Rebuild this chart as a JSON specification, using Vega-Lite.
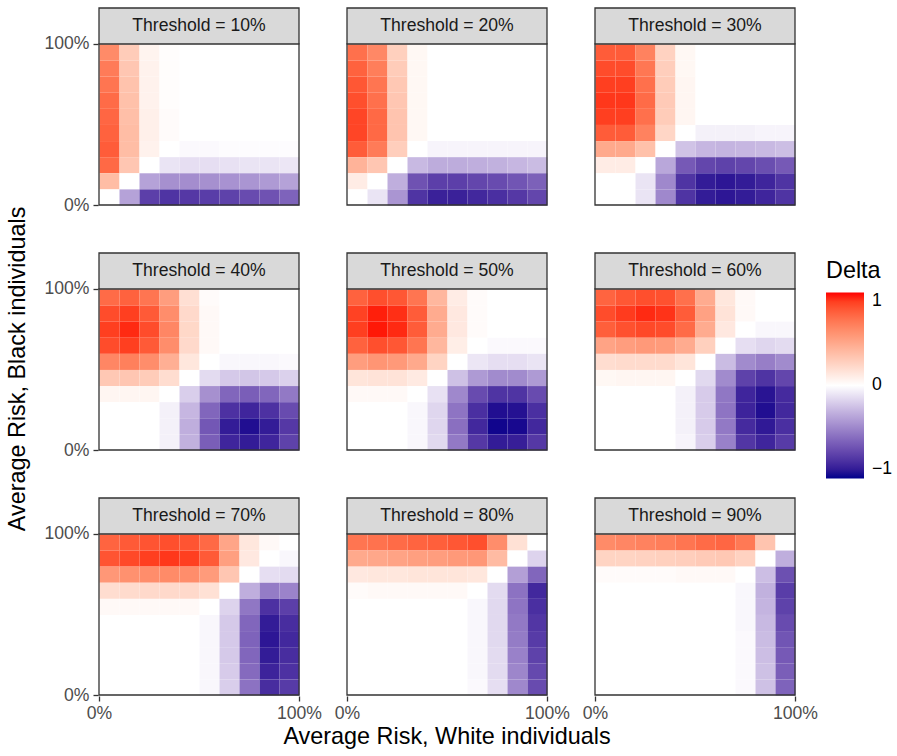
{
"$schema":"https://vega.github.io/schema/vega-lite/v6.json",
"background":"white",
"padding":{"left":5,"top":7,"right":5,"bottom":5},
"title":{"text":"Average Risk, Black individuals","orient":"left","anchor":"middle","fontSize":23.4,"fontWeight":"normal","color":"black","font":"Liberation Sans","offset":14,"dx":9},
"data":{"values":[
{"t":10,"x":0,"y":90,"d":0.6},{"t":10,"x":10,"y":90,"d":0.27},{"t":10,"x":20,"y":90,"d":0.06},{"t":10,"x":30,"y":90,"d":0.01},{"t":10,"x":40,"y":90,"d":0},{"t":10,"x":50,"y":90,"d":0},{"t":10,"x":60,"y":90,"d":0},{"t":10,"x":70,"y":90,"d":0},{"t":10,"x":80,"y":90,"d":0},{"t":10,"x":90,"y":90,"d":0},
{"t":10,"x":0,"y":80,"d":0.67},{"t":10,"x":10,"y":80,"d":0.3},{"t":10,"x":20,"y":80,"d":0.07},{"t":10,"x":30,"y":80,"d":0.01},{"t":10,"x":40,"y":80,"d":0},{"t":10,"x":50,"y":80,"d":0},{"t":10,"x":60,"y":80,"d":0},{"t":10,"x":70,"y":80,"d":0},{"t":10,"x":80,"y":80,"d":0},{"t":10,"x":90,"y":80,"d":0},
{"t":10,"x":0,"y":70,"d":0.7},{"t":10,"x":10,"y":70,"d":0.32},{"t":10,"x":20,"y":70,"d":0.07},{"t":10,"x":30,"y":70,"d":0.01},{"t":10,"x":40,"y":70,"d":0},{"t":10,"x":50,"y":70,"d":0},{"t":10,"x":60,"y":70,"d":0},{"t":10,"x":70,"y":70,"d":0},{"t":10,"x":80,"y":70,"d":0},{"t":10,"x":90,"y":70,"d":0},
{"t":10,"x":0,"y":60,"d":0.74},{"t":10,"x":10,"y":60,"d":0.33},{"t":10,"x":20,"y":60,"d":0.07},{"t":10,"x":30,"y":60,"d":0.01},{"t":10,"x":40,"y":60,"d":0},{"t":10,"x":50,"y":60,"d":0},{"t":10,"x":60,"y":60,"d":0},{"t":10,"x":70,"y":60,"d":0},{"t":10,"x":80,"y":60,"d":0},{"t":10,"x":90,"y":60,"d":0},
{"t":10,"x":0,"y":50,"d":0.76},{"t":10,"x":10,"y":50,"d":0.34},{"t":10,"x":20,"y":50,"d":0.08},{"t":10,"x":30,"y":50,"d":0.02},{"t":10,"x":40,"y":50,"d":0},{"t":10,"x":50,"y":50,"d":0},{"t":10,"x":60,"y":50,"d":0},{"t":10,"x":70,"y":50,"d":0},{"t":10,"x":80,"y":50,"d":0},{"t":10,"x":90,"y":50,"d":0},
{"t":10,"x":0,"y":40,"d":0.78},{"t":10,"x":10,"y":40,"d":0.35},{"t":10,"x":20,"y":40,"d":0.08},{"t":10,"x":30,"y":40,"d":0.02},{"t":10,"x":40,"y":40,"d":0},{"t":10,"x":50,"y":40,"d":0},{"t":10,"x":60,"y":40,"d":0},{"t":10,"x":70,"y":40,"d":0},{"t":10,"x":80,"y":40,"d":0},{"t":10,"x":90,"y":40,"d":0},
{"t":10,"x":0,"y":30,"d":0.8},{"t":10,"x":10,"y":30,"d":0.35},{"t":10,"x":20,"y":30,"d":0.07},{"t":10,"x":30,"y":30,"d":0},{"t":10,"x":40,"y":30,"d":-0.02},{"t":10,"x":50,"y":30,"d":-0.02},{"t":10,"x":60,"y":30,"d":-0.01},{"t":10,"x":70,"y":30,"d":-0.01},{"t":10,"x":80,"y":30,"d":-0.01},{"t":10,"x":90,"y":30,"d":-0.01},
{"t":10,"x":0,"y":20,"d":0.75},{"t":10,"x":10,"y":20,"d":0.3},{"t":10,"x":20,"y":20,"d":0},{"t":10,"x":30,"y":20,"d":-0.1},{"t":10,"x":40,"y":20,"d":-0.12},{"t":10,"x":50,"y":20,"d":-0.12},{"t":10,"x":60,"y":20,"d":-0.11},{"t":10,"x":70,"y":20,"d":-0.1},{"t":10,"x":80,"y":20,"d":-0.1},{"t":10,"x":90,"y":20,"d":-0.09},
{"t":10,"x":0,"y":10,"d":0.35},{"t":10,"x":10,"y":10,"d":0},{"t":10,"x":20,"y":10,"d":-0.35},{"t":10,"x":30,"y":10,"d":-0.42},{"t":10,"x":40,"y":10,"d":-0.43},{"t":10,"x":50,"y":10,"d":-0.42},{"t":10,"x":60,"y":10,"d":-0.41},{"t":10,"x":70,"y":10,"d":-0.4},{"t":10,"x":80,"y":10,"d":-0.38},{"t":10,"x":90,"y":10,"d":-0.35},
{"t":10,"x":0,"y":0,"d":0},{"t":10,"x":10,"y":0,"d":-0.35},{"t":10,"x":20,"y":0,"d":-0.75},{"t":10,"x":30,"y":0,"d":-0.8},{"t":10,"x":40,"y":0,"d":-0.78},{"t":10,"x":50,"y":0,"d":-0.76},{"t":10,"x":60,"y":0,"d":-0.74},{"t":10,"x":70,"y":0,"d":-0.7},{"t":10,"x":80,"y":0,"d":-0.67},{"t":10,"x":90,"y":0,"d":-0.6},
{"t":20,"x":0,"y":90,"d":0.72},{"t":20,"x":10,"y":90,"d":0.61},{"t":20,"x":20,"y":90,"d":0.25},{"t":20,"x":30,"y":90,"d":0.04},{"t":20,"x":40,"y":90,"d":0},{"t":20,"x":50,"y":90,"d":0},{"t":20,"x":60,"y":90,"d":0},{"t":20,"x":70,"y":90,"d":0},{"t":20,"x":80,"y":90,"d":0},{"t":20,"x":90,"y":90,"d":0},
{"t":20,"x":0,"y":80,"d":0.78},{"t":20,"x":10,"y":80,"d":0.66},{"t":20,"x":20,"y":80,"d":0.27},{"t":20,"x":30,"y":80,"d":0.04},{"t":20,"x":40,"y":80,"d":0},{"t":20,"x":50,"y":80,"d":0},{"t":20,"x":60,"y":80,"d":0},{"t":20,"x":70,"y":80,"d":0},{"t":20,"x":80,"y":80,"d":0},{"t":20,"x":90,"y":80,"d":0},
{"t":20,"x":0,"y":70,"d":0.82},{"t":20,"x":10,"y":70,"d":0.7},{"t":20,"x":20,"y":70,"d":0.29},{"t":20,"x":30,"y":70,"d":0.04},{"t":20,"x":40,"y":70,"d":0},{"t":20,"x":50,"y":70,"d":0},{"t":20,"x":60,"y":70,"d":0},{"t":20,"x":70,"y":70,"d":0},{"t":20,"x":80,"y":70,"d":0},{"t":20,"x":90,"y":70,"d":0},
{"t":20,"x":0,"y":60,"d":0.85},{"t":20,"x":10,"y":60,"d":0.72},{"t":20,"x":20,"y":60,"d":0.3},{"t":20,"x":30,"y":60,"d":0.04},{"t":20,"x":40,"y":60,"d":0},{"t":20,"x":50,"y":60,"d":0},{"t":20,"x":60,"y":60,"d":0},{"t":20,"x":70,"y":60,"d":0},{"t":20,"x":80,"y":60,"d":0},{"t":20,"x":90,"y":60,"d":0},
{"t":20,"x":0,"y":50,"d":0.88},{"t":20,"x":10,"y":50,"d":0.75},{"t":20,"x":20,"y":50,"d":0.31},{"t":20,"x":30,"y":50,"d":0.04},{"t":20,"x":40,"y":50,"d":0},{"t":20,"x":50,"y":50,"d":0},{"t":20,"x":60,"y":50,"d":0},{"t":20,"x":70,"y":50,"d":0},{"t":20,"x":80,"y":50,"d":0},{"t":20,"x":90,"y":50,"d":0},
{"t":20,"x":0,"y":40,"d":0.88},{"t":20,"x":10,"y":40,"d":0.75},{"t":20,"x":20,"y":40,"d":0.31},{"t":20,"x":30,"y":40,"d":0.04},{"t":20,"x":40,"y":40,"d":0},{"t":20,"x":50,"y":40,"d":0},{"t":20,"x":60,"y":40,"d":0},{"t":20,"x":70,"y":40,"d":0},{"t":20,"x":80,"y":40,"d":0},{"t":20,"x":90,"y":40,"d":0},
{"t":20,"x":0,"y":30,"d":0.8},{"t":20,"x":10,"y":30,"d":0.67},{"t":20,"x":20,"y":30,"d":0.26},{"t":20,"x":30,"y":30,"d":0},{"t":20,"x":40,"y":30,"d":-0.04},{"t":20,"x":50,"y":30,"d":-0.04},{"t":20,"x":60,"y":30,"d":-0.04},{"t":20,"x":70,"y":30,"d":-0.04},{"t":20,"x":80,"y":30,"d":-0.04},{"t":20,"x":90,"y":30,"d":-0.04},
{"t":20,"x":0,"y":20,"d":0.4},{"t":20,"x":10,"y":20,"d":0.3},{"t":20,"x":20,"y":20,"d":0},{"t":20,"x":30,"y":20,"d":-0.26},{"t":20,"x":40,"y":20,"d":-0.31},{"t":20,"x":50,"y":20,"d":-0.31},{"t":20,"x":60,"y":20,"d":-0.3},{"t":20,"x":70,"y":20,"d":-0.29},{"t":20,"x":80,"y":20,"d":-0.27},{"t":20,"x":90,"y":20,"d":-0.25},
{"t":20,"x":0,"y":10,"d":0.1},{"t":20,"x":10,"y":10,"d":0},{"t":20,"x":20,"y":10,"d":-0.3},{"t":20,"x":30,"y":10,"d":-0.67},{"t":20,"x":40,"y":10,"d":-0.75},{"t":20,"x":50,"y":10,"d":-0.75},{"t":20,"x":60,"y":10,"d":-0.72},{"t":20,"x":70,"y":10,"d":-0.7},{"t":20,"x":80,"y":10,"d":-0.66},{"t":20,"x":90,"y":10,"d":-0.61},
{"t":20,"x":0,"y":0,"d":0},{"t":20,"x":10,"y":0,"d":-0.1},{"t":20,"x":20,"y":0,"d":-0.4},{"t":20,"x":30,"y":0,"d":-0.8},{"t":20,"x":40,"y":0,"d":-0.88},{"t":20,"x":50,"y":0,"d":-0.88},{"t":20,"x":60,"y":0,"d":-0.85},{"t":20,"x":70,"y":0,"d":-0.82},{"t":20,"x":80,"y":0,"d":-0.78},{"t":20,"x":90,"y":0,"d":-0.72},
{"t":30,"x":0,"y":90,"d":0.8},{"t":30,"x":10,"y":90,"d":0.8},{"t":30,"x":20,"y":90,"d":0.64},{"t":30,"x":30,"y":90,"d":0.24},{"t":30,"x":40,"y":90,"d":0.04},{"t":30,"x":50,"y":90,"d":0},{"t":30,"x":60,"y":90,"d":0},{"t":30,"x":70,"y":90,"d":0},{"t":30,"x":80,"y":90,"d":0},{"t":30,"x":90,"y":90,"d":0},
{"t":30,"x":0,"y":80,"d":0.86},{"t":30,"x":10,"y":80,"d":0.86},{"t":30,"x":20,"y":80,"d":0.69},{"t":30,"x":30,"y":80,"d":0.26},{"t":30,"x":40,"y":80,"d":0.04},{"t":30,"x":50,"y":80,"d":0},{"t":30,"x":60,"y":80,"d":0},{"t":30,"x":70,"y":80,"d":0},{"t":30,"x":80,"y":80,"d":0},{"t":30,"x":90,"y":80,"d":0},
{"t":30,"x":0,"y":70,"d":0.9},{"t":30,"x":10,"y":70,"d":0.9},{"t":30,"x":20,"y":70,"d":0.72},{"t":30,"x":30,"y":70,"d":0.27},{"t":30,"x":40,"y":70,"d":0.05},{"t":30,"x":50,"y":70,"d":0},{"t":30,"x":60,"y":70,"d":0},{"t":30,"x":70,"y":70,"d":0},{"t":30,"x":80,"y":70,"d":0},{"t":30,"x":90,"y":70,"d":0},
{"t":30,"x":0,"y":60,"d":0.92},{"t":30,"x":10,"y":60,"d":0.92},{"t":30,"x":20,"y":60,"d":0.74},{"t":30,"x":30,"y":60,"d":0.28},{"t":30,"x":40,"y":60,"d":0.05},{"t":30,"x":50,"y":60,"d":0},{"t":30,"x":60,"y":60,"d":0},{"t":30,"x":70,"y":60,"d":0},{"t":30,"x":80,"y":60,"d":0},{"t":30,"x":90,"y":60,"d":0},
{"t":30,"x":0,"y":50,"d":0.9},{"t":30,"x":10,"y":50,"d":0.9},{"t":30,"x":20,"y":50,"d":0.72},{"t":30,"x":30,"y":50,"d":0.27},{"t":30,"x":40,"y":50,"d":0.05},{"t":30,"x":50,"y":50,"d":0},{"t":30,"x":60,"y":50,"d":0},{"t":30,"x":70,"y":50,"d":0},{"t":30,"x":80,"y":50,"d":0},{"t":30,"x":90,"y":50,"d":0},
{"t":30,"x":0,"y":40,"d":0.8},{"t":30,"x":10,"y":40,"d":0.8},{"t":30,"x":20,"y":40,"d":0.64},{"t":30,"x":30,"y":40,"d":0.22},{"t":30,"x":40,"y":40,"d":0},{"t":30,"x":50,"y":40,"d":-0.05},{"t":30,"x":60,"y":40,"d":-0.05},{"t":30,"x":70,"y":40,"d":-0.05},{"t":30,"x":80,"y":40,"d":-0.04},{"t":30,"x":90,"y":40,"d":-0.04},
{"t":30,"x":0,"y":30,"d":0.45},{"t":30,"x":10,"y":30,"d":0.45},{"t":30,"x":20,"y":30,"d":0.33},{"t":30,"x":30,"y":30,"d":0},{"t":30,"x":40,"y":30,"d":-0.22},{"t":30,"x":50,"y":30,"d":-0.27},{"t":30,"x":60,"y":30,"d":-0.28},{"t":30,"x":70,"y":30,"d":-0.27},{"t":30,"x":80,"y":30,"d":-0.26},{"t":30,"x":90,"y":30,"d":-0.24},
{"t":30,"x":0,"y":20,"d":0.1},{"t":30,"x":10,"y":20,"d":0.1},{"t":30,"x":20,"y":20,"d":0},{"t":30,"x":30,"y":20,"d":-0.33},{"t":30,"x":40,"y":20,"d":-0.64},{"t":30,"x":50,"y":20,"d":-0.72},{"t":30,"x":60,"y":20,"d":-0.74},{"t":30,"x":70,"y":20,"d":-0.72},{"t":30,"x":80,"y":20,"d":-0.69},{"t":30,"x":90,"y":20,"d":-0.64},
{"t":30,"x":0,"y":10,"d":0},{"t":30,"x":10,"y":10,"d":0},{"t":30,"x":20,"y":10,"d":-0.1},{"t":30,"x":30,"y":10,"d":-0.45},{"t":30,"x":40,"y":10,"d":-0.8},{"t":30,"x":50,"y":10,"d":-0.9},{"t":30,"x":60,"y":10,"d":-0.92},{"t":30,"x":70,"y":10,"d":-0.9},{"t":30,"x":80,"y":10,"d":-0.86},{"t":30,"x":90,"y":10,"d":-0.8},
{"t":30,"x":0,"y":0,"d":0},{"t":30,"x":10,"y":0,"d":0},{"t":30,"x":20,"y":0,"d":-0.1},{"t":30,"x":30,"y":0,"d":-0.45},{"t":30,"x":40,"y":0,"d":-0.8},{"t":30,"x":50,"y":0,"d":-0.9},{"t":30,"x":60,"y":0,"d":-0.92},{"t":30,"x":70,"y":0,"d":-0.9},{"t":30,"x":80,"y":0,"d":-0.86},{"t":30,"x":90,"y":0,"d":-0.8},
{"t":40,"x":0,"y":90,"d":0.74},{"t":40,"x":10,"y":90,"d":0.78},{"t":40,"x":20,"y":90,"d":0.7},{"t":40,"x":30,"y":90,"d":0.51},{"t":40,"x":40,"y":90,"d":0.17},{"t":40,"x":50,"y":90,"d":0.02},{"t":40,"x":60,"y":90,"d":0},{"t":40,"x":70,"y":90,"d":0},{"t":40,"x":80,"y":90,"d":0},{"t":40,"x":90,"y":90,"d":0},
{"t":40,"x":0,"y":80,"d":0.86},{"t":40,"x":10,"y":80,"d":0.9},{"t":40,"x":20,"y":80,"d":0.81},{"t":40,"x":30,"y":80,"d":0.59},{"t":40,"x":40,"y":80,"d":0.2},{"t":40,"x":50,"y":80,"d":0.03},{"t":40,"x":60,"y":80,"d":0},{"t":40,"x":70,"y":80,"d":0},{"t":40,"x":80,"y":80,"d":0},{"t":40,"x":90,"y":80,"d":0},
{"t":40,"x":0,"y":70,"d":0.9},{"t":40,"x":10,"y":70,"d":0.95},{"t":40,"x":20,"y":70,"d":0.86},{"t":40,"x":30,"y":70,"d":0.62},{"t":40,"x":40,"y":70,"d":0.21},{"t":40,"x":50,"y":70,"d":0.03},{"t":40,"x":60,"y":70,"d":0},{"t":40,"x":70,"y":70,"d":0},{"t":40,"x":80,"y":70,"d":0},{"t":40,"x":90,"y":70,"d":0},
{"t":40,"x":0,"y":60,"d":0.86},{"t":40,"x":10,"y":60,"d":0.9},{"t":40,"x":20,"y":60,"d":0.81},{"t":40,"x":30,"y":60,"d":0.59},{"t":40,"x":40,"y":60,"d":0.2},{"t":40,"x":50,"y":60,"d":0.03},{"t":40,"x":60,"y":60,"d":0},{"t":40,"x":70,"y":60,"d":0},{"t":40,"x":80,"y":60,"d":0},{"t":40,"x":90,"y":60,"d":0},
{"t":40,"x":0,"y":50,"d":0.62},{"t":40,"x":10,"y":50,"d":0.65},{"t":40,"x":20,"y":50,"d":0.59},{"t":40,"x":30,"y":50,"d":0.42},{"t":40,"x":40,"y":50,"d":0.13},{"t":40,"x":50,"y":50,"d":0},{"t":40,"x":60,"y":50,"d":-0.03},{"t":40,"x":70,"y":50,"d":-0.03},{"t":40,"x":80,"y":50,"d":-0.03},{"t":40,"x":90,"y":50,"d":-0.02},
{"t":40,"x":0,"y":40,"d":0.29},{"t":40,"x":10,"y":40,"d":0.3},{"t":40,"x":20,"y":40,"d":0.27},{"t":40,"x":30,"y":40,"d":0.18},{"t":40,"x":40,"y":40,"d":0},{"t":40,"x":50,"y":40,"d":-0.13},{"t":40,"x":60,"y":40,"d":-0.2},{"t":40,"x":70,"y":40,"d":-0.21},{"t":40,"x":80,"y":40,"d":-0.2},{"t":40,"x":90,"y":40,"d":-0.17},
{"t":40,"x":0,"y":30,"d":0.05},{"t":40,"x":10,"y":30,"d":0.05},{"t":40,"x":20,"y":30,"d":0.05},{"t":40,"x":30,"y":30,"d":0},{"t":40,"x":40,"y":30,"d":-0.18},{"t":40,"x":50,"y":30,"d":-0.42},{"t":40,"x":60,"y":30,"d":-0.59},{"t":40,"x":70,"y":30,"d":-0.62},{"t":40,"x":80,"y":30,"d":-0.59},{"t":40,"x":90,"y":30,"d":-0.51},
{"t":40,"x":0,"y":20,"d":0},{"t":40,"x":10,"y":20,"d":0},{"t":40,"x":20,"y":20,"d":0},{"t":40,"x":30,"y":20,"d":-0.05},{"t":40,"x":40,"y":20,"d":-0.27},{"t":40,"x":50,"y":20,"d":-0.59},{"t":40,"x":60,"y":20,"d":-0.81},{"t":40,"x":70,"y":20,"d":-0.86},{"t":40,"x":80,"y":20,"d":-0.81},{"t":40,"x":90,"y":20,"d":-0.7},
{"t":40,"x":0,"y":10,"d":0},{"t":40,"x":10,"y":10,"d":0},{"t":40,"x":20,"y":10,"d":0},{"t":40,"x":30,"y":10,"d":-0.05},{"t":40,"x":40,"y":10,"d":-0.3},{"t":40,"x":50,"y":10,"d":-0.65},{"t":40,"x":60,"y":10,"d":-0.9},{"t":40,"x":70,"y":10,"d":-0.95},{"t":40,"x":80,"y":10,"d":-0.9},{"t":40,"x":90,"y":10,"d":-0.78},
{"t":40,"x":0,"y":0,"d":0},{"t":40,"x":10,"y":0,"d":0},{"t":40,"x":20,"y":0,"d":0},{"t":40,"x":30,"y":0,"d":-0.05},{"t":40,"x":40,"y":0,"d":-0.29},{"t":40,"x":50,"y":0,"d":-0.62},{"t":40,"x":60,"y":0,"d":-0.86},{"t":40,"x":70,"y":0,"d":-0.9},{"t":40,"x":80,"y":0,"d":-0.86},{"t":40,"x":90,"y":0,"d":-0.74},
{"t":50,"x":0,"y":90,"d":0.78},{"t":50,"x":10,"y":90,"d":0.85},{"t":50,"x":20,"y":90,"d":0.82},{"t":50,"x":30,"y":90,"d":0.7},{"t":50,"x":40,"y":90,"d":0.38},{"t":50,"x":50,"y":90,"d":0.1},{"t":50,"x":60,"y":90,"d":0.02},{"t":50,"x":70,"y":90,"d":0},{"t":50,"x":80,"y":90,"d":0},{"t":50,"x":90,"y":90,"d":0},
{"t":50,"x":0,"y":80,"d":0.89},{"t":50,"x":10,"y":80,"d":0.97},{"t":50,"x":20,"y":80,"d":0.94},{"t":50,"x":30,"y":80,"d":0.8},{"t":50,"x":40,"y":80,"d":0.44},{"t":50,"x":50,"y":80,"d":0.12},{"t":50,"x":60,"y":80,"d":0.02},{"t":50,"x":70,"y":80,"d":0},{"t":50,"x":80,"y":80,"d":0},{"t":50,"x":90,"y":80,"d":0},
{"t":50,"x":0,"y":70,"d":0.9},{"t":50,"x":10,"y":70,"d":0.98},{"t":50,"x":20,"y":70,"d":0.95},{"t":50,"x":30,"y":70,"d":0.8},{"t":50,"x":40,"y":70,"d":0.44},{"t":50,"x":50,"y":70,"d":0.12},{"t":50,"x":60,"y":70,"d":0.02},{"t":50,"x":70,"y":70,"d":0},{"t":50,"x":80,"y":70,"d":0},{"t":50,"x":90,"y":70,"d":0},
{"t":50,"x":0,"y":60,"d":0.78},{"t":50,"x":10,"y":60,"d":0.85},{"t":50,"x":20,"y":60,"d":0.82},{"t":50,"x":30,"y":60,"d":0.7},{"t":50,"x":40,"y":60,"d":0.38},{"t":50,"x":50,"y":60,"d":0.09},{"t":50,"x":60,"y":60,"d":0},{"t":50,"x":70,"y":60,"d":-0.02},{"t":50,"x":80,"y":60,"d":-0.02},{"t":50,"x":90,"y":60,"d":-0.02},
{"t":50,"x":0,"y":50,"d":0.51},{"t":50,"x":10,"y":50,"d":0.55},{"t":50,"x":20,"y":50,"d":0.53},{"t":50,"x":30,"y":50,"d":0.45},{"t":50,"x":40,"y":50,"d":0.23},{"t":50,"x":50,"y":50,"d":0},{"t":50,"x":60,"y":50,"d":-0.09},{"t":50,"x":70,"y":50,"d":-0.12},{"t":50,"x":80,"y":50,"d":-0.12},{"t":50,"x":90,"y":50,"d":-0.1},
{"t":50,"x":0,"y":40,"d":0.14},{"t":50,"x":10,"y":40,"d":0.15},{"t":50,"x":20,"y":40,"d":0.15},{"t":50,"x":30,"y":40,"d":0.11},{"t":50,"x":40,"y":40,"d":0},{"t":50,"x":50,"y":40,"d":-0.23},{"t":50,"x":60,"y":40,"d":-0.38},{"t":50,"x":70,"y":40,"d":-0.44},{"t":50,"x":80,"y":40,"d":-0.44},{"t":50,"x":90,"y":40,"d":-0.38},
{"t":50,"x":0,"y":30,"d":0.03},{"t":50,"x":10,"y":30,"d":0.03},{"t":50,"x":20,"y":30,"d":0.03},{"t":50,"x":30,"y":30,"d":0},{"t":50,"x":40,"y":30,"d":-0.11},{"t":50,"x":50,"y":30,"d":-0.45},{"t":50,"x":60,"y":30,"d":-0.7},{"t":50,"x":70,"y":30,"d":-0.8},{"t":50,"x":80,"y":30,"d":-0.8},{"t":50,"x":90,"y":30,"d":-0.7},
{"t":50,"x":0,"y":20,"d":0},{"t":50,"x":10,"y":20,"d":0},{"t":50,"x":20,"y":20,"d":0},{"t":50,"x":30,"y":20,"d":-0.03},{"t":50,"x":40,"y":20,"d":-0.15},{"t":50,"x":50,"y":20,"d":-0.53},{"t":50,"x":60,"y":20,"d":-0.82},{"t":50,"x":70,"y":20,"d":-0.95},{"t":50,"x":80,"y":20,"d":-0.94},{"t":50,"x":90,"y":20,"d":-0.82},
{"t":50,"x":0,"y":10,"d":0},{"t":50,"x":10,"y":10,"d":0},{"t":50,"x":20,"y":10,"d":0},{"t":50,"x":30,"y":10,"d":-0.03},{"t":50,"x":40,"y":10,"d":-0.15},{"t":50,"x":50,"y":10,"d":-0.55},{"t":50,"x":60,"y":10,"d":-0.85},{"t":50,"x":70,"y":10,"d":-0.98},{"t":50,"x":80,"y":10,"d":-0.97},{"t":50,"x":90,"y":10,"d":-0.85},
{"t":50,"x":0,"y":0,"d":0},{"t":50,"x":10,"y":0,"d":0},{"t":50,"x":20,"y":0,"d":0},{"t":50,"x":30,"y":0,"d":-0.03},{"t":50,"x":40,"y":0,"d":-0.14},{"t":50,"x":50,"y":0,"d":-0.51},{"t":50,"x":60,"y":0,"d":-0.78},{"t":50,"x":70,"y":0,"d":-0.9},{"t":50,"x":80,"y":0,"d":-0.89},{"t":50,"x":90,"y":0,"d":-0.78},
{"t":60,"x":0,"y":90,"d":0.77},{"t":60,"x":10,"y":90,"d":0.82},{"t":60,"x":20,"y":90,"d":0.85},{"t":60,"x":30,"y":90,"d":0.84},{"t":60,"x":40,"y":90,"d":0.72},{"t":60,"x":50,"y":90,"d":0.44},{"t":60,"x":60,"y":90,"d":0.13},{"t":60,"x":70,"y":90,"d":0.03},{"t":60,"x":80,"y":90,"d":0},{"t":60,"x":90,"y":90,"d":0},
{"t":60,"x":0,"y":80,"d":0.86},{"t":60,"x":10,"y":80,"d":0.91},{"t":60,"x":20,"y":80,"d":0.95},{"t":60,"x":30,"y":80,"d":0.93},{"t":60,"x":40,"y":80,"d":0.8},{"t":60,"x":50,"y":80,"d":0.49},{"t":60,"x":60,"y":80,"d":0.15},{"t":60,"x":70,"y":80,"d":0.03},{"t":60,"x":80,"y":80,"d":0},{"t":60,"x":90,"y":80,"d":0},
{"t":60,"x":0,"y":70,"d":0.79},{"t":60,"x":10,"y":70,"d":0.84},{"t":60,"x":20,"y":70,"d":0.87},{"t":60,"x":30,"y":70,"d":0.86},{"t":60,"x":40,"y":70,"d":0.74},{"t":60,"x":50,"y":70,"d":0.44},{"t":60,"x":60,"y":70,"d":0.12},{"t":60,"x":70,"y":70,"d":0},{"t":60,"x":80,"y":70,"d":-0.03},{"t":60,"x":90,"y":70,"d":-0.03},
{"t":60,"x":0,"y":60,"d":0.48},{"t":60,"x":10,"y":60,"d":0.51},{"t":60,"x":20,"y":60,"d":0.53},{"t":60,"x":30,"y":60,"d":0.52},{"t":60,"x":40,"y":60,"d":0.44},{"t":60,"x":50,"y":60,"d":0.25},{"t":60,"x":60,"y":60,"d":0},{"t":60,"x":70,"y":60,"d":-0.12},{"t":60,"x":80,"y":60,"d":-0.15},{"t":60,"x":90,"y":60,"d":-0.13},
{"t":60,"x":0,"y":50,"d":0.18},{"t":60,"x":10,"y":50,"d":0.19},{"t":60,"x":20,"y":50,"d":0.19},{"t":60,"x":30,"y":50,"d":0.19},{"t":60,"x":40,"y":50,"d":0.14},{"t":60,"x":50,"y":50,"d":0},{"t":60,"x":60,"y":50,"d":-0.25},{"t":60,"x":70,"y":50,"d":-0.44},{"t":60,"x":80,"y":50,"d":-0.49},{"t":60,"x":90,"y":50,"d":-0.44},
{"t":60,"x":0,"y":40,"d":0.04},{"t":60,"x":10,"y":40,"d":0.05},{"t":60,"x":20,"y":40,"d":0.05},{"t":60,"x":30,"y":40,"d":0.05},{"t":60,"x":40,"y":40,"d":0},{"t":60,"x":50,"y":40,"d":-0.14},{"t":60,"x":60,"y":40,"d":-0.44},{"t":60,"x":70,"y":40,"d":-0.74},{"t":60,"x":80,"y":40,"d":-0.8},{"t":60,"x":90,"y":40,"d":-0.72},
{"t":60,"x":0,"y":30,"d":0},{"t":60,"x":10,"y":30,"d":0},{"t":60,"x":20,"y":30,"d":0},{"t":60,"x":30,"y":30,"d":0},{"t":60,"x":40,"y":30,"d":-0.05},{"t":60,"x":50,"y":30,"d":-0.19},{"t":60,"x":60,"y":30,"d":-0.52},{"t":60,"x":70,"y":30,"d":-0.86},{"t":60,"x":80,"y":30,"d":-0.93},{"t":60,"x":90,"y":30,"d":-0.84},
{"t":60,"x":0,"y":20,"d":0},{"t":60,"x":10,"y":20,"d":0},{"t":60,"x":20,"y":20,"d":0},{"t":60,"x":30,"y":20,"d":0},{"t":60,"x":40,"y":20,"d":-0.05},{"t":60,"x":50,"y":20,"d":-0.19},{"t":60,"x":60,"y":20,"d":-0.53},{"t":60,"x":70,"y":20,"d":-0.87},{"t":60,"x":80,"y":20,"d":-0.95},{"t":60,"x":90,"y":20,"d":-0.85},
{"t":60,"x":0,"y":10,"d":0},{"t":60,"x":10,"y":10,"d":0},{"t":60,"x":20,"y":10,"d":0},{"t":60,"x":30,"y":10,"d":0},{"t":60,"x":40,"y":10,"d":-0.05},{"t":60,"x":50,"y":10,"d":-0.19},{"t":60,"x":60,"y":10,"d":-0.51},{"t":60,"x":70,"y":10,"d":-0.84},{"t":60,"x":80,"y":10,"d":-0.91},{"t":60,"x":90,"y":10,"d":-0.82},
{"t":60,"x":0,"y":0,"d":0},{"t":60,"x":10,"y":0,"d":0},{"t":60,"x":20,"y":0,"d":0},{"t":60,"x":30,"y":0,"d":0},{"t":60,"x":40,"y":0,"d":-0.04},{"t":60,"x":50,"y":0,"d":-0.18},{"t":60,"x":60,"y":0,"d":-0.48},{"t":60,"x":70,"y":0,"d":-0.79},{"t":60,"x":80,"y":0,"d":-0.86},{"t":60,"x":90,"y":0,"d":-0.77},
{"t":70,"x":0,"y":90,"d":0.77},{"t":70,"x":10,"y":90,"d":0.81},{"t":70,"x":20,"y":90,"d":0.83},{"t":70,"x":30,"y":90,"d":0.85},{"t":70,"x":40,"y":90,"d":0.83},{"t":70,"x":50,"y":90,"d":0.75},{"t":70,"x":60,"y":90,"d":0.47},{"t":70,"x":70,"y":90,"d":0.13},{"t":70,"x":80,"y":90,"d":0.03},{"t":70,"x":90,"y":90,"d":0},
{"t":70,"x":0,"y":80,"d":0.83},{"t":70,"x":10,"y":80,"d":0.87},{"t":70,"x":20,"y":80,"d":0.9},{"t":70,"x":30,"y":80,"d":0.92},{"t":70,"x":40,"y":80,"d":0.9},{"t":70,"x":50,"y":80,"d":0.81},{"t":70,"x":60,"y":80,"d":0.5},{"t":70,"x":70,"y":80,"d":0.12},{"t":70,"x":80,"y":80,"d":0},{"t":70,"x":90,"y":80,"d":-0.03},
{"t":70,"x":0,"y":70,"d":0.54},{"t":70,"x":10,"y":70,"d":0.57},{"t":70,"x":20,"y":70,"d":0.59},{"t":70,"x":30,"y":70,"d":0.6},{"t":70,"x":40,"y":70,"d":0.59},{"t":70,"x":50,"y":70,"d":0.52},{"t":70,"x":60,"y":70,"d":0.3},{"t":70,"x":70,"y":70,"d":0},{"t":70,"x":80,"y":70,"d":-0.12},{"t":70,"x":90,"y":70,"d":-0.13},
{"t":70,"x":0,"y":60,"d":0.18},{"t":70,"x":10,"y":60,"d":0.19},{"t":70,"x":20,"y":60,"d":0.2},{"t":70,"x":30,"y":60,"d":0.2},{"t":70,"x":40,"y":60,"d":0.2},{"t":70,"x":50,"y":60,"d":0.16},{"t":70,"x":60,"y":60,"d":0},{"t":70,"x":70,"y":60,"d":-0.3},{"t":70,"x":80,"y":60,"d":-0.5},{"t":70,"x":90,"y":60,"d":-0.47},
{"t":70,"x":0,"y":50,"d":0.03},{"t":70,"x":10,"y":50,"d":0.03},{"t":70,"x":20,"y":50,"d":0.03},{"t":70,"x":30,"y":50,"d":0.03},{"t":70,"x":40,"y":50,"d":0.03},{"t":70,"x":50,"y":50,"d":0},{"t":70,"x":60,"y":50,"d":-0.16},{"t":70,"x":70,"y":50,"d":-0.52},{"t":70,"x":80,"y":50,"d":-0.81},{"t":70,"x":90,"y":50,"d":-0.75},
{"t":70,"x":0,"y":40,"d":0},{"t":70,"x":10,"y":40,"d":0},{"t":70,"x":20,"y":40,"d":0},{"t":70,"x":30,"y":40,"d":0},{"t":70,"x":40,"y":40,"d":0},{"t":70,"x":50,"y":40,"d":-0.03},{"t":70,"x":60,"y":40,"d":-0.2},{"t":70,"x":70,"y":40,"d":-0.59},{"t":70,"x":80,"y":40,"d":-0.9},{"t":70,"x":90,"y":40,"d":-0.83},
{"t":70,"x":0,"y":30,"d":0},{"t":70,"x":10,"y":30,"d":0},{"t":70,"x":20,"y":30,"d":0},{"t":70,"x":30,"y":30,"d":0},{"t":70,"x":40,"y":30,"d":0},{"t":70,"x":50,"y":30,"d":-0.03},{"t":70,"x":60,"y":30,"d":-0.2},{"t":70,"x":70,"y":30,"d":-0.6},{"t":70,"x":80,"y":30,"d":-0.92},{"t":70,"x":90,"y":30,"d":-0.85},
{"t":70,"x":0,"y":20,"d":0},{"t":70,"x":10,"y":20,"d":0},{"t":70,"x":20,"y":20,"d":0},{"t":70,"x":30,"y":20,"d":0},{"t":70,"x":40,"y":20,"d":0},{"t":70,"x":50,"y":20,"d":-0.03},{"t":70,"x":60,"y":20,"d":-0.2},{"t":70,"x":70,"y":20,"d":-0.59},{"t":70,"x":80,"y":20,"d":-0.9},{"t":70,"x":90,"y":20,"d":-0.83},
{"t":70,"x":0,"y":10,"d":0},{"t":70,"x":10,"y":10,"d":0},{"t":70,"x":20,"y":10,"d":0},{"t":70,"x":30,"y":10,"d":0},{"t":70,"x":40,"y":10,"d":0},{"t":70,"x":50,"y":10,"d":-0.03},{"t":70,"x":60,"y":10,"d":-0.19},{"t":70,"x":70,"y":10,"d":-0.57},{"t":70,"x":80,"y":10,"d":-0.87},{"t":70,"x":90,"y":10,"d":-0.81},
{"t":70,"x":0,"y":0,"d":0},{"t":70,"x":10,"y":0,"d":0},{"t":70,"x":20,"y":0,"d":0},{"t":70,"x":30,"y":0,"d":0},{"t":70,"x":40,"y":0,"d":0},{"t":70,"x":50,"y":0,"d":-0.03},{"t":70,"x":60,"y":0,"d":-0.18},{"t":70,"x":70,"y":0,"d":-0.54},{"t":70,"x":80,"y":0,"d":-0.83},{"t":70,"x":90,"y":0,"d":-0.77},
{"t":80,"x":0,"y":90,"d":0.7},{"t":80,"x":10,"y":90,"d":0.71},{"t":80,"x":20,"y":90,"d":0.74},{"t":80,"x":30,"y":90,"d":0.77},{"t":80,"x":40,"y":90,"d":0.79},{"t":80,"x":50,"y":90,"d":0.82},{"t":80,"x":60,"y":90,"d":0.85},{"t":80,"x":70,"y":90,"d":0.59},{"t":80,"x":80,"y":90,"d":0.16},{"t":80,"x":90,"y":90,"d":0},
{"t":80,"x":0,"y":80,"d":0.45},{"t":80,"x":10,"y":80,"d":0.46},{"t":80,"x":20,"y":80,"d":0.48},{"t":80,"x":30,"y":80,"d":0.5},{"t":80,"x":40,"y":80,"d":0.51},{"t":80,"x":50,"y":80,"d":0.53},{"t":80,"x":60,"y":80,"d":0.54},{"t":80,"x":70,"y":80,"d":0.36},{"t":80,"x":80,"y":80,"d":0},{"t":80,"x":90,"y":80,"d":-0.16},
{"t":80,"x":0,"y":70,"d":0.12},{"t":80,"x":10,"y":70,"d":0.13},{"t":80,"x":20,"y":70,"d":0.13},{"t":80,"x":30,"y":70,"d":0.14},{"t":80,"x":40,"y":70,"d":0.14},{"t":80,"x":50,"y":70,"d":0.14},{"t":80,"x":60,"y":70,"d":0.13},{"t":80,"x":70,"y":70,"d":0},{"t":80,"x":80,"y":70,"d":-0.36},{"t":80,"x":90,"y":70,"d":-0.59},
{"t":80,"x":0,"y":60,"d":0.02},{"t":80,"x":10,"y":60,"d":0.03},{"t":80,"x":20,"y":60,"d":0.03},{"t":80,"x":30,"y":60,"d":0.03},{"t":80,"x":40,"y":60,"d":0.03},{"t":80,"x":50,"y":60,"d":0.03},{"t":80,"x":60,"y":60,"d":0},{"t":80,"x":70,"y":60,"d":-0.13},{"t":80,"x":80,"y":60,"d":-0.54},{"t":80,"x":90,"y":60,"d":-0.85},
{"t":80,"x":0,"y":50,"d":0},{"t":80,"x":10,"y":50,"d":0},{"t":80,"x":20,"y":50,"d":0},{"t":80,"x":30,"y":50,"d":0},{"t":80,"x":40,"y":50,"d":0},{"t":80,"x":50,"y":50,"d":0},{"t":80,"x":60,"y":50,"d":-0.03},{"t":80,"x":70,"y":50,"d":-0.14},{"t":80,"x":80,"y":50,"d":-0.53},{"t":80,"x":90,"y":50,"d":-0.82},
{"t":80,"x":0,"y":40,"d":0},{"t":80,"x":10,"y":40,"d":0},{"t":80,"x":20,"y":40,"d":0},{"t":80,"x":30,"y":40,"d":0},{"t":80,"x":40,"y":40,"d":0},{"t":80,"x":50,"y":40,"d":0},{"t":80,"x":60,"y":40,"d":-0.03},{"t":80,"x":70,"y":40,"d":-0.14},{"t":80,"x":80,"y":40,"d":-0.51},{"t":80,"x":90,"y":40,"d":-0.79},
{"t":80,"x":0,"y":30,"d":0},{"t":80,"x":10,"y":30,"d":0},{"t":80,"x":20,"y":30,"d":0},{"t":80,"x":30,"y":30,"d":0},{"t":80,"x":40,"y":30,"d":0},{"t":80,"x":50,"y":30,"d":0},{"t":80,"x":60,"y":30,"d":-0.03},{"t":80,"x":70,"y":30,"d":-0.14},{"t":80,"x":80,"y":30,"d":-0.5},{"t":80,"x":90,"y":30,"d":-0.77},
{"t":80,"x":0,"y":20,"d":0},{"t":80,"x":10,"y":20,"d":0},{"t":80,"x":20,"y":20,"d":0},{"t":80,"x":30,"y":20,"d":0},{"t":80,"x":40,"y":20,"d":0},{"t":80,"x":50,"y":20,"d":0},{"t":80,"x":60,"y":20,"d":-0.03},{"t":80,"x":70,"y":20,"d":-0.13},{"t":80,"x":80,"y":20,"d":-0.48},{"t":80,"x":90,"y":20,"d":-0.74},
{"t":80,"x":0,"y":10,"d":0},{"t":80,"x":10,"y":10,"d":0},{"t":80,"x":20,"y":10,"d":0},{"t":80,"x":30,"y":10,"d":0},{"t":80,"x":40,"y":10,"d":0},{"t":80,"x":50,"y":10,"d":0},{"t":80,"x":60,"y":10,"d":-0.03},{"t":80,"x":70,"y":10,"d":-0.13},{"t":80,"x":80,"y":10,"d":-0.46},{"t":80,"x":90,"y":10,"d":-0.71},
{"t":80,"x":0,"y":0,"d":0},{"t":80,"x":10,"y":0,"d":0},{"t":80,"x":20,"y":0,"d":0},{"t":80,"x":30,"y":0,"d":0},{"t":80,"x":40,"y":0,"d":0},{"t":80,"x":50,"y":0,"d":0},{"t":80,"x":60,"y":0,"d":-0.02},{"t":80,"x":70,"y":0,"d":-0.12},{"t":80,"x":80,"y":0,"d":-0.45},{"t":80,"x":90,"y":0,"d":-0.7},
{"t":90,"x":0,"y":90,"d":0.6},{"t":90,"x":10,"y":90,"d":0.62},{"t":90,"x":20,"y":90,"d":0.64},{"t":90,"x":30,"y":90,"d":0.66},{"t":90,"x":40,"y":90,"d":0.7},{"t":90,"x":50,"y":90,"d":0.74},{"t":90,"x":60,"y":90,"d":0.76},{"t":90,"x":70,"y":90,"d":0.68},{"t":90,"x":80,"y":90,"d":0.31},{"t":90,"x":90,"y":90,"d":0},
{"t":90,"x":0,"y":80,"d":0.23},{"t":90,"x":10,"y":80,"d":0.23},{"t":90,"x":20,"y":80,"d":0.24},{"t":90,"x":30,"y":80,"d":0.25},{"t":90,"x":40,"y":80,"d":0.26},{"t":90,"x":50,"y":80,"d":0.28},{"t":90,"x":60,"y":80,"d":0.29},{"t":90,"x":70,"y":80,"d":0.24},{"t":90,"x":80,"y":80,"d":0},{"t":90,"x":90,"y":80,"d":-0.3},
{"t":90,"x":0,"y":70,"d":0.02},{"t":90,"x":10,"y":70,"d":0.02},{"t":90,"x":20,"y":70,"d":0.02},{"t":90,"x":30,"y":70,"d":0.02},{"t":90,"x":40,"y":70,"d":0.03},{"t":90,"x":50,"y":70,"d":0.03},{"t":90,"x":60,"y":70,"d":0.03},{"t":90,"x":70,"y":70,"d":0},{"t":90,"x":80,"y":70,"d":-0.24},{"t":90,"x":90,"y":70,"d":-0.68},
{"t":90,"x":0,"y":60,"d":0},{"t":90,"x":10,"y":60,"d":0},{"t":90,"x":20,"y":60,"d":0},{"t":90,"x":30,"y":60,"d":0},{"t":90,"x":40,"y":60,"d":0},{"t":90,"x":50,"y":60,"d":0},{"t":90,"x":60,"y":60,"d":0},{"t":90,"x":70,"y":60,"d":-0.03},{"t":90,"x":80,"y":60,"d":-0.29},{"t":90,"x":90,"y":60,"d":-0.76},
{"t":90,"x":0,"y":50,"d":0},{"t":90,"x":10,"y":50,"d":0},{"t":90,"x":20,"y":50,"d":0},{"t":90,"x":30,"y":50,"d":0},{"t":90,"x":40,"y":50,"d":0},{"t":90,"x":50,"y":50,"d":0},{"t":90,"x":60,"y":50,"d":0},{"t":90,"x":70,"y":50,"d":-0.03},{"t":90,"x":80,"y":50,"d":-0.28},{"t":90,"x":90,"y":50,"d":-0.74},
{"t":90,"x":0,"y":40,"d":0},{"t":90,"x":10,"y":40,"d":0},{"t":90,"x":20,"y":40,"d":0},{"t":90,"x":30,"y":40,"d":0},{"t":90,"x":40,"y":40,"d":0},{"t":90,"x":50,"y":40,"d":0},{"t":90,"x":60,"y":40,"d":0},{"t":90,"x":70,"y":40,"d":-0.03},{"t":90,"x":80,"y":40,"d":-0.26},{"t":90,"x":90,"y":40,"d":-0.7},
{"t":90,"x":0,"y":30,"d":0},{"t":90,"x":10,"y":30,"d":0},{"t":90,"x":20,"y":30,"d":0},{"t":90,"x":30,"y":30,"d":0},{"t":90,"x":40,"y":30,"d":0},{"t":90,"x":50,"y":30,"d":0},{"t":90,"x":60,"y":30,"d":0},{"t":90,"x":70,"y":30,"d":-0.02},{"t":90,"x":80,"y":30,"d":-0.25},{"t":90,"x":90,"y":30,"d":-0.66},
{"t":90,"x":0,"y":20,"d":0},{"t":90,"x":10,"y":20,"d":0},{"t":90,"x":20,"y":20,"d":0},{"t":90,"x":30,"y":20,"d":0},{"t":90,"x":40,"y":20,"d":0},{"t":90,"x":50,"y":20,"d":0},{"t":90,"x":60,"y":20,"d":0},{"t":90,"x":70,"y":20,"d":-0.02},{"t":90,"x":80,"y":20,"d":-0.24},{"t":90,"x":90,"y":20,"d":-0.64},
{"t":90,"x":0,"y":10,"d":0},{"t":90,"x":10,"y":10,"d":0},{"t":90,"x":20,"y":10,"d":0},{"t":90,"x":30,"y":10,"d":0},{"t":90,"x":40,"y":10,"d":0},{"t":90,"x":50,"y":10,"d":0},{"t":90,"x":60,"y":10,"d":0},{"t":90,"x":70,"y":10,"d":-0.02},{"t":90,"x":80,"y":10,"d":-0.23},{"t":90,"x":90,"y":10,"d":-0.62},
{"t":90,"x":0,"y":0,"d":0},{"t":90,"x":10,"y":0,"d":0},{"t":90,"x":20,"y":0,"d":0},{"t":90,"x":30,"y":0,"d":0},{"t":90,"x":40,"y":0,"d":0},{"t":90,"x":50,"y":0,"d":0},{"t":90,"x":60,"y":0,"d":0},{"t":90,"x":70,"y":0,"d":-0.02},{"t":90,"x":80,"y":0,"d":-0.23},{"t":90,"x":90,"y":0,"d":-0.6}
]},
"facet":{"field":"t","type":"ordinal","header":{"labelExpr":"''","labelFontSize":0,"labelPadding":0,"title":"Average Risk, White individuals","titleOrient":"bottom","titleFontSize":23.4,"titleFontWeight":"normal","titleColor":"black","titleFont":"Liberation Sans","titlePadding":4}},
"columns":3,
"spacing":{"row":46,"column":46},
"spec":{
"width":200,"height":197,
"layer":[
{"mark":{"type":"rect","binSpacing":0},
"encoding":{
"x":{"field":"x","type":"quantitative","bin":{"binned":true,"step":10},"scale":{"domain":[0,100],"nice":false,"zero":false},"axis":{"values":[0,100],"labelExpr":"datum.value + '%'","title":null}},
"y":{"field":"y","type":"quantitative","bin":{"binned":true,"step":10},"scale":{"domain":[0,122.3],"nice":false,"zero":false},"axis":{"values":[0,100],"labelExpr":"datum.value + '%'","title":null}},
"color":{"field":"d","type":"quantitative","scale":{"domain":[-1,0,1],"range":["#00008B","#FFFFFF","#FF0000"],"interpolate":"lab"},
"legend":{"type":"gradient","title":"Delta","orient":"none","legendX":727,"legendY":252,"direction":"vertical","gradientLength":186,"gradientThickness":38,"values":[-1,0,1],"titleFontSize":23.4,"titleFontWeight":"normal","titleColor":"black","titleFont":"Liberation Sans","labelFontSize":17.6,"labelColor":"black","labelFont":"Liberation Sans","titlePadding":9,"labelOffset":8,"gradientStrokeWidth":0}}
}},
{"transform":[{"filter":"datum.x == 0 && datum.y == 0"}],
"mark":{"type":"rect","fill":"transparent","stroke":"#333333","strokeWidth":1.3},
"encoding":{"x":{"datum":0,"type":"quantitative","scale":{"domain":[0,100],"nice":false,"zero":false},"axis":{"values":[0,100],"labelExpr":"datum.value + '%'","title":null}},"x2":{"datum":100},"y":{"datum":0,"type":"quantitative","scale":{"domain":[0,122.3],"nice":false,"zero":false},"axis":{"values":[0,100],"labelExpr":"datum.value + '%'","title":null}},"y2":{"datum":100}}},
{"transform":[{"filter":"datum.x == 0 && datum.y == 0"}],
"mark":{"type":"rect","fill":"#D9D9D9","stroke":"#333333","strokeWidth":1.3},
"encoding":{"x":{"datum":0,"type":"quantitative","scale":{"domain":[0,100],"nice":false,"zero":false},"axis":{"values":[0,100],"labelExpr":"datum.value + '%'","title":null}},"x2":{"datum":100},"y":{"datum":100,"type":"quantitative","scale":{"domain":[0,122.3],"nice":false,"zero":false},"axis":{"values":[0,100],"labelExpr":"datum.value + '%'","title":null}},"y2":{"datum":122.3}}},
{"transform":[{"filter":"datum.x == 0 && datum.y == 0"}],
"mark":{"type":"text","text":{"expr":"'Threshold = ' + datum.t + '%'"},"fontSize":17.6,"color":"#1A1A1A","baseline":"middle","align":"center","font":"Liberation Sans"},
"encoding":{"x":{"datum":50,"type":"quantitative","scale":{"domain":[0,100],"nice":false,"zero":false},"axis":{"values":[0,100],"labelExpr":"datum.value + '%'","title":null}},"y":{"datum":111.15,"type":"quantitative","scale":{"domain":[0,122.3],"nice":false,"zero":false},"axis":{"values":[0,100],"labelExpr":"datum.value + '%'","title":null}}}}
]},
"config":{
"view":{"stroke":null},
"font":"Liberation Sans",
"axis":{"grid":false,"domain":false,"ticks":true,"tickColor":"#333333","tickSize":5,"tickWidth":1.3,"labelColor":"#4D4D4D","labelFontSize":17.6,"labelFont":"Liberation Sans","labelPadding":3,"labelFlush":false,"labelOverlap":false},
"axisY":{"labelPadding":4}
}
}
